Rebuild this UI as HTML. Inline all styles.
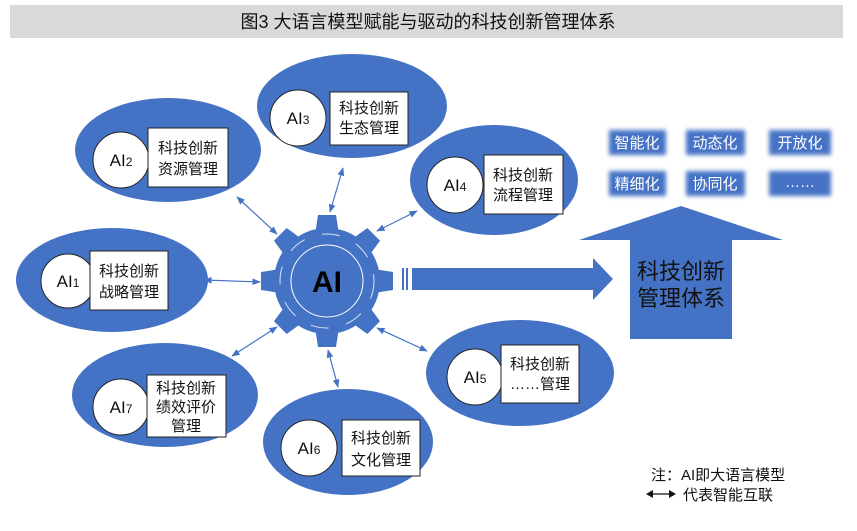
<!DOCTYPE html>
<html><head><meta charset="utf-8"><style>
body{margin:0;width:857px;height:526px;background:#fff;overflow:hidden;font-family:"Liberation Sans","Noto Sans CJK SC",sans-serif}
svg text{font-family:"Liberation Sans","Noto Sans CJK SC",sans-serif}
</style></head><body>
<svg width="857" height="526" viewBox="0 0 857 526" xmlns="http://www.w3.org/2000/svg">
<defs>
<marker id="a" viewBox="0 0 10 10" refX="9" refY="5" markerWidth="7" markerHeight="7" orient="auto-start-reverse"><path d="M0,1 L10,5 L0,9 z" fill="#4472C4"/></marker>
<filter id="g" x="-30%" y="-50%" width="160%" height="200%"><feGaussianBlur stdDeviation="2"/></filter>
</defs>
<rect x="10" y="5" width="833" height="33" fill="#d9d9d9"/>
<text x="428" y="28" text-anchor="middle" font-size="18" fill="#111">图3  大语言模型赋能与驱动的科技创新管理体系</text>

<g fill="#4472C4">
<ellipse cx="352" cy="106" rx="95" ry="52"/>
<ellipse cx="168" cy="150" rx="93" ry="52"/>
<ellipse cx="494" cy="180" rx="84" ry="55"/>
<ellipse cx="112" cy="280" rx="96" ry="52"/>
<ellipse cx="165" cy="395" rx="93" ry="52"/>
<ellipse cx="348" cy="442" rx="85" ry="53"/>
<ellipse cx="520" cy="373" rx="94" ry="53"/>
</g>

<g stroke="#4472C4" stroke-width="1.2" fill="none" marker-start="url(#a)" marker-end="url(#a)">
<line x1="237" y1="197" x2="277" y2="234"/>
<line x1="343" y1="168" x2="330" y2="212"/>
<line x1="417" y1="211" x2="377" y2="231"/>
<line x1="204" y1="280" x2="260" y2="282"/>
<line x1="232" y1="356" x2="277" y2="327"/>
<line x1="328" y1="350" x2="338" y2="387"/>
<line x1="377" y1="328" x2="427" y2="351"/>
</g>

<g transform="translate(327,281)" fill="#4472C4">
<circle r="53"/>
<g>
<path id="t" d="M-13,-40 L-9,-66 H9 L13,-40 Z"/>
<use href="#t" transform="rotate(45)"/>
<use href="#t" transform="rotate(90)"/>
<use href="#t" transform="rotate(135)"/>
<use href="#t" transform="rotate(180)"/>
<use href="#t" transform="rotate(225)"/>
<use href="#t" transform="rotate(270)"/>
<use href="#t" transform="rotate(315)"/>
</g>
<circle r="47" fill="none" stroke="#fff" stroke-width="1" stroke-dasharray="18 18" opacity="0.8"/>
<circle r="36" fill="none" stroke="#fff" stroke-width="1"/>
<text x="0" y="11" text-anchor="middle" font-size="30" font-weight="bold" fill="#000">AI</text>
</g>

<g fill="#4472C4">
<rect x="402" y="268" width="2" height="22"/>
<rect x="406" y="268" width="2" height="22"/>
<path d="M412,268 H593 V258 L613,279 L593,300 V290 H412 Z"/>
<path d="M681,206 L783,240 H732 V339 H630 V240 H579 Z"/>
</g>
<text x="681" y="279" text-anchor="middle" font-size="22" fill="#111">科技创新</text>
<text x="681" y="306" text-anchor="middle" font-size="22" fill="#111">管理体系</text>

<g fill="#4472C4" filter="url(#g)">
<rect x="609" y="130" width="57" height="25"/><rect x="686" y="130" width="59" height="25"/><rect x="769" y="130" width="62" height="25"/>
<rect x="609" y="171" width="57" height="25"/><rect x="686" y="171" width="59" height="25"/><rect x="769" y="171" width="62" height="25"/>
</g>
<g fill="#fff" font-size="15" text-anchor="middle">
<text x="637" y="148">智能化</text><text x="715" y="148">动态化</text><text x="800" y="148">开放化</text>
<text x="637" y="189">精细化</text><text x="715" y="189">协同化</text><text x="800" y="187">……</text>
</g>

<g stroke="#222" stroke-width="1" fill="#fff">
<circle cx="298" cy="118" r="28"/><rect x="330" y="92" width="78" height="53"/>
<circle cx="121" cy="160" r="28"/><rect x="148" y="128" width="80" height="59"/>
<circle cx="455" cy="185" r="28"/><rect x="484" y="155" width="79" height="59"/>
<circle cx="68" cy="281" r="27"/><rect x="90" y="251" width="78" height="59"/>
<circle cx="121" cy="407" r="28"/><rect x="147" y="375" width="79" height="62"/>
<circle cx="309" cy="448" r="28"/><rect x="342" y="420" width="78" height="56"/>
<circle cx="475" cy="377" r="28"/><rect x="501" y="345" width="78" height="58"/>
</g>
<g font-size="17" fill="#111" text-anchor="middle">
<text x="298" y="124">AI<tspan font-size="12">3</tspan></text>
<text x="121" y="166">AI<tspan font-size="12">2</tspan></text>
<text x="455" y="191">AI<tspan font-size="12">4</tspan></text>
<text x="68" y="287">AI<tspan font-size="12">1</tspan></text>
<text x="121" y="413">AI<tspan font-size="12">7</tspan></text>
<text x="309" y="454">AI<tspan font-size="12">6</tspan></text>
<text x="475" y="383">AI<tspan font-size="12">5</tspan></text>
</g>
<g font-size="15" fill="#111" text-anchor="middle">
<text x="369" y="113">科技创新</text><text x="369" y="133">生态管理</text>
<text x="188" y="153">科技创新</text><text x="188" y="174">资源管理</text>
<text x="523" y="180">科技创新</text><text x="523" y="200">流程管理</text>
<text x="129" y="276">科技创新</text><text x="129" y="297">战略管理</text>
<text x="186" y="393">科技创新</text><text x="186" y="412">绩效评价</text><text x="186" y="431">管理</text>
<text x="381" y="443">科技创新</text><text x="381" y="465">文化管理</text>
<text x="540" y="369">科技创新</text><text x="540" y="389">……管理</text>
</g>

<text x="651" y="480" font-size="15" fill="#111">注：AI即大语言模型</text>
<g stroke="#111" stroke-width="1.3"><line x1="650" y1="494" x2="672" y2="494"/></g>
<path d="M646,494 L653,490 L653,498 Z M676,494 L669,490 L669,498 Z" fill="#111"/>
<text x="683" y="500" font-size="15" fill="#111">代表智能互联</text>
</svg>
</body></html>
